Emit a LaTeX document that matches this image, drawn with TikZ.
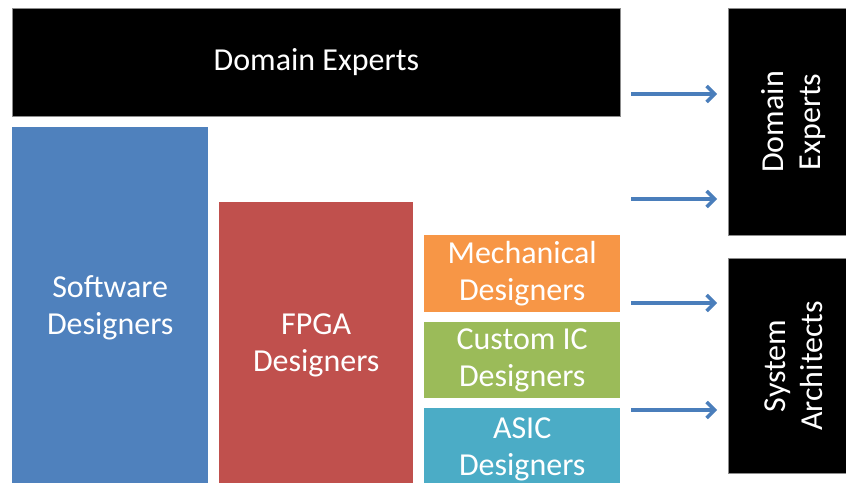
\documentclass[tikz,border=0pt]{standalone}
\usepackage{fontspec}
\setmainfont{Carlito}
\usepackage{xcolor}
\usepackage{tikz}
\usetikzlibrary{arrows.meta,positioning,calc}

\definecolor{swblue}{HTML}{4F81BD}
\definecolor{fpgared}{HTML}{C0504D}
\definecolor{mechorange}{HTML}{F79646}
\definecolor{icgreen}{HTML}{9BBB59}
\definecolor{asicteal}{HTML}{4BACC6}
\definecolor{arrblue}{HTML}{4A7EBB}

\begin{document}
\begin{tikzpicture}[
    x=1pt, y=-1pt,
    blk/.style={rectangle, draw=none, anchor=north west, inner sep=0pt,
                text=white, align=center,
                font=\fontsize{32}{37}\selectfont},
    dark/.style={blk, fill=black, draw=black!45, line width=0.8pt},
    vert/.style={dark, rotate=90, anchor=north east},
    flow/.style={draw=arrblue, line width=3.4pt,
                 -{Straight Barb[length=8pt,width=16pt]},
                 shorten >=11pt},
  ]
  \useasboundingbox (0,0) rectangle (846,482);
  \clip (0,0) rectangle (846,482);

  % Left stack
  \node[dark, minimum width=608pt, minimum height=108pt] (dom) at (12,8) {Domain Experts};
  \node[blk, fill=swblue, minimum width=196pt, minimum height=361pt] (sw) at (12,127) {Software\\Designers};
  \node[blk, fill=fpgared, minimum width=194pt, minimum height=286pt] (fpga) at (219,202) {FPGA\\Designers};
  \node[blk, fill=mechorange, minimum width=196pt, minimum height=77pt] (mech) at (424,235) {Mechanical\\Designers};
  \node[blk, fill=icgreen, minimum width=196pt, minimum height=76pt] (cic) at (424,322) {Custom IC\\Designers};
  \node[blk, fill=asicteal, minimum width=196pt, minimum height=82pt] (asic) at (424,408) {ASIC\\Designers};

  % Right boxes (rotated)
  \node[vert, minimum width=227pt, minimum height=130pt] (rdom) at (728,8) {Domain\\Experts};
  \node[vert, minimum width=215pt, minimum height=130pt] (rsys) at (728,258) {System\\Architects};

  % Arrow starts
  \coordinate (s1) at (631,94);
  \coordinate (s2) at (631,199);
  \coordinate (s3) at (631,303);
  \coordinate (s4) at (631,410);

  % Arrows
  \draw[flow] (s1) -- (s1 -| rdom.north);
  \draw[flow] (s2) -- (s2 -| rdom.north);
  \draw[flow] (s3) -- (s3 -| rsys.north);
  \draw[flow] (s4) -- (s4 -| rsys.north);
\end{tikzpicture}
\end{document}
